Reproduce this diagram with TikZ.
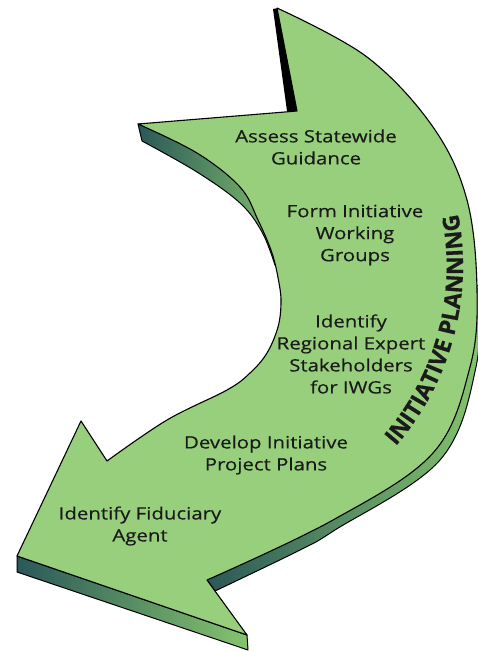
\documentclass[tikz,border=0pt]{standalone}
\usepackage{fontspec}
\setmainfont{Open Sans}[FakeStretch=1.2,FakeBold=0.4]
\newfontfamily\titlefont{Open Sans}[FakeBold=0.6]
\usetikzlibrary{decorations.text}
\definecolor{facegreen}{HTML}{98CF7C}
\definecolor{sidedark}{HTML}{2A5858}
\definecolor{sidelight}{HTML}{86C46E}
\definecolor{txt}{HTML}{1A1A1A}
\begin{document}
\begin{tikzpicture}[x=1pt,y=-1pt,line join=round,
  face/.style={fill=facegreen,draw=black,line width=1.1pt},
  sideface/.style={draw=black,line width=1pt},
  lbl/.style={align=center,font=\fontsize{17}{22}\selectfont,text=txt,inner sep=0pt}]
\useasboundingbox (0,0) rectangle (477,651);
% side faces
\shade[sideface,left color=sidedark,right color=sidelight]
  (138,124) -- (142,141) -- plot[smooth,tension=0.6] coordinates {(142,141) (197,172) (240,203) (262,232) (275,265)}
  -- (290,220) -- (250,130) -- cycle;
\shade[sideface,left color=sidedark,right color=sidelight]
  plot[smooth,tension=0.6] coordinates {(479,285) (476,367) (440,460) (335,530) (300,550) (215,591)}
  -- (207,580) -- (300,500) -- (440,300) -- cycle;
\shade[sideface,left color=sidedark,right color=sidelight]
  (17,556) -- (247,635) -- (248,650) -- (17,572) -- cycle;
\fill[black] (273,9) -- (278,8) -- (298,111) -- (287,111) -- cycle;
% top face
\draw[face] (138,124) -- (297,111) -- (277,8)
  -- plot[smooth,tension=0.6] coordinates {(277,8) (367,57) (433,127) (467,200) (477,290) (470,367) (433,453) (333,520) (207,580)}
  -- (247,635) -- (17,556) -- (81,421) -- (107,461)
  -- plot[smooth,tension=0.6] coordinates {(107,461) (167,420) (227,390) (250,373) (267,353) (278,327) (281,303) (279,283) (272,253) (258,220) (240,187) (197,153) (138,124)}
  -- cycle;
% labels
\node[lbl] (t1) at (316,147) {Assess Statewide\\Guidance};
\node[lbl] (t2) at (355,235) {Form Initiative\\Working\\Groups};
\node[lbl] (t3) at (351,354) {Identify\\Regional Expert\\Stakeholders\\for IWGs};
\node[lbl] (t4) at (266,455) {Develop Initiative\\Project Plans};
\node[lbl] (t5) at (140,526) {Identify Fiduciary\\Agent};
\path[decorate,decoration={text along path,text align=center,
  text={|\titlefont\bfseries\fontsize{23}{23}\selectfont\color{txt}|INITIATIVE PLANNING}}]
  (188,266) ++(43:275) arc[start angle=43,end angle=-13,radius=275];
\end{tikzpicture}
\end{document}
